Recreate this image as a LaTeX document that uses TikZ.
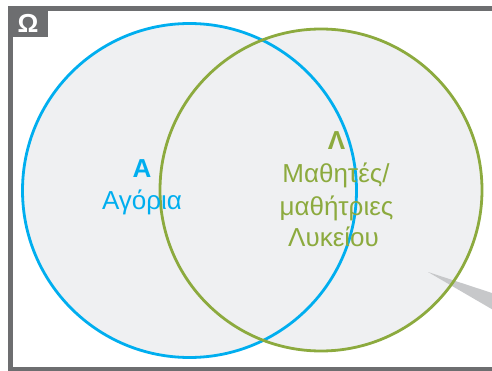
\documentclass[tikz,border=0pt]{standalone}
\usepackage{fontspec}
\setmainfont{Liberation Sans}
\definecolor{setblue}{HTML}{00AEEF}
\definecolor{setgreen}{HTML}{8CAA3E}
\definecolor{setfill}{HTML}{EFF0F2}
\definecolor{framegray}{HTML}{6D6E70}
\definecolor{pointergray}{HTML}{C7C8CA}
\tikzset{
  bluetext/.style={text=setblue, anchor=base, inner sep=0pt, font=\fontsize{26}{30}\selectfont},
  greentext/.style={text=setgreen, anchor=base, inner sep=0pt, font=\fontsize{26}{30}\selectfont},
  setline/.style={line width=2.8pt},
}
\begin{document}
\begin{tikzpicture}[x=1pt,y=-1pt]
\useasboundingbox (0,0) rectangle (492,371);
\clip (0,0) rectangle (492,371);
% universe frame
\draw[framegray, line width=4.5pt] (510,8.4) -- (10.4,8.4) -- (10.4,369.2) -- (510,369.2);
\fill[framegray] (8,6) rectangle (48,37);
\node[text=white, font=\fontsize{26}{30}\bfseries\selectfont, inner sep=0pt, anchor=base] (omega) at (28,33) {Ω};
% set fills
\fill[setfill] (189.5,190.5) circle (167) (321,190) circle (161);
% pointer
\fill[pointergray] (428,272) -- (495,294) -- (495,311) -- cycle;
% set outlines
\draw[setblue, setline] (189.5,190.5) circle (167);
\draw[setgreen, setline] (321,190) circle (161);
% labels
\node[bluetext, font=\fontsize{26}{30}\bfseries\selectfont] (nameA) at (142,178) {A};
\node[bluetext] (textA) at (142,210) {Αγόρια};
\node[greentext, font=\fontsize{26}{30}\bfseries\selectfont] (nameL) at (336.5,150) {Λ};
\node[greentext] (textL1) at (336,183) {Μαθητές/};
\node[greentext] (textL2) at (336.5,215) {μαθήτριες};
\node[greentext] (textL3) at (333.5,247) {Λυκείου};
\end{tikzpicture}
\end{document}
